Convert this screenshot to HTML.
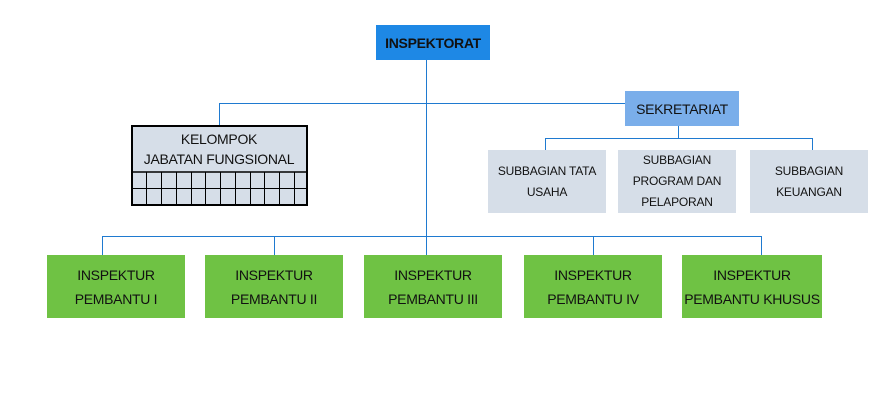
<!DOCTYPE html>
<html><head><meta charset="utf-8"><style>
body{margin:0;width:886px;height:416px;background:#fff;position:relative;overflow:hidden;font-family:"Liberation Sans",Arial,sans-serif;}
.b{position:absolute;display:flex;align-items:center;justify-content:center;text-align:center;color:#111;box-sizing:border-box;white-space:nowrap;}
.l{position:absolute;background:#1f7ad0;}
.g{background:#6fc244;font-size:14px;line-height:24px;top:255px;height:63px;width:138px;letter-spacing:-0.3px;}
.s{background:#d6dee8;font-size:12px;line-height:21px;top:150px;height:63px;width:118px;letter-spacing:-0.2px;}
</style></head><body>
<div class="l" style="left:426px;top:60px;width:1px;height:196px"></div>
<div class="l" style="left:219px;top:103px;width:406px;height:1px"></div>
<div class="l" style="left:219px;top:103px;width:1px;height:22px"></div>
<div class="l" style="left:678px;top:126px;width:1px;height:12px"></div>
<div class="l" style="left:545px;top:138px;width:268px;height:1px"></div>
<div class="l" style="left:545px;top:138px;width:1px;height:12px"></div>
<div class="l" style="left:812px;top:138px;width:1px;height:12px"></div>
<div class="l" style="left:102px;top:236px;width:660px;height:1px"></div>
<div class="l" style="left:102px;top:236px;width:1px;height:19px"></div>
<div class="l" style="left:274px;top:236px;width:1px;height:19px"></div>
<div class="l" style="left:593px;top:236px;width:1px;height:19px"></div>
<div class="l" style="left:761px;top:236px;width:1px;height:19px"></div>

<div class="b" style="left:376px;top:25px;width:114px;height:35px;background:#1e88e5;font-weight:bold;font-size:14px;letter-spacing:-0.3px;">INSPEKTORAT</div>
<div class="b" style="left:625px;top:91px;width:114px;height:35px;background:#7aaeea;font-size:14px;letter-spacing:-0.3px;">SEKRETARIAT</div>

<div class="s b" style="left:488px">SUBBAGIAN TATA<br>USAHA</div>
<div class="s b" style="left:618px">SUBBAGIAN<br>PROGRAM DAN<br>PELAPORAN</div>
<div class="s b" style="left:750px">SUBBAGIAN<br>KEUANGAN</div>

<svg style="position:absolute;left:0;top:0" width="886" height="416">
<rect x="132" y="126" width="175" height="79" fill="#d6dee8" stroke="#000" stroke-width="2"/>
<line x1="132" y1="172" x2="307" y2="172" stroke="#000" stroke-width="1.5"/>
<line x1="132" y1="188.5" x2="307" y2="188.5" stroke="#000" stroke-width="1"/>
<g stroke="#000" stroke-width="1">
<line x1="146.5" y1="172" x2="146.5" y2="205"/><line x1="161.5" y1="172" x2="161.5" y2="205"/>
<line x1="176.5" y1="172" x2="176.5" y2="205"/><line x1="191.5" y1="172" x2="191.5" y2="205"/>
<line x1="205.5" y1="172" x2="205.5" y2="205"/><line x1="220.5" y1="172" x2="220.5" y2="205"/>
<line x1="235.5" y1="172" x2="235.5" y2="205"/><line x1="250.5" y1="172" x2="250.5" y2="205"/>
<line x1="264.5" y1="172" x2="264.5" y2="205"/><line x1="279.5" y1="172" x2="279.5" y2="205"/>
<line x1="294.5" y1="172" x2="294.5" y2="205"/>
</g>
<text x="219" y="144" font-family="Liberation Sans, Arial, sans-serif" font-size="14" letter-spacing="-0.3" text-anchor="middle" fill="#111">KELOMPOK</text>
<text x="219" y="164" font-family="Liberation Sans, Arial, sans-serif" font-size="14" letter-spacing="-0.3" text-anchor="middle" fill="#111">JABATAN FUNGSIONAL</text>
</svg>

<div class="g b" style="left:47px">INSPEKTUR<br>PEMBANTU I</div>
<div class="g b" style="left:205px">INSPEKTUR<br>PEMBANTU II</div>
<div class="g b" style="left:364px">INSPEKTUR<br>PEMBANTU III</div>
<div class="g b" style="left:524px">INSPEKTUR<br>PEMBANTU IV</div>
<div class="g b" style="left:682px;width:140px">INSPEKTUR<br>PEMBANTU KHUSUS</div>
</body></html>
